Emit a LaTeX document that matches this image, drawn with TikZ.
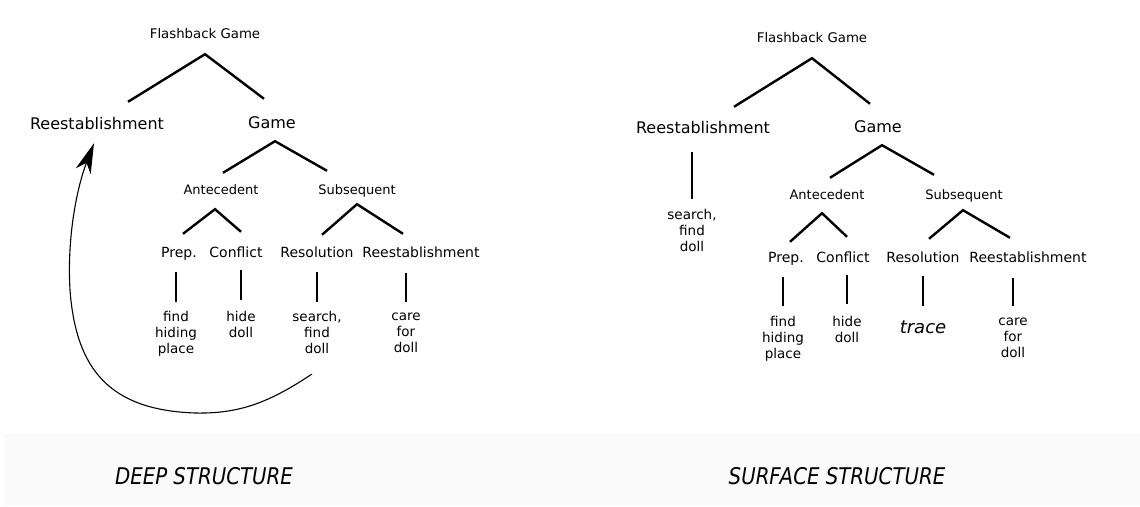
\documentclass[tikz,border=0pt]{standalone}
\usepackage{fontspec}
\setmainfont{DejaVu Sans}
\newfontfamily\capfont[FakeStretch=0.86]{DejaVu Sans}
\usetikzlibrary{arrows.meta}

\begin{document}
\begin{tikzpicture}[x=1pt,y=-1pt,
    roottxt/.style={font=\fontsize{13.3}{16}\selectfont,inner sep=0pt,text height=10pt,text depth=3pt},
    big/.style={font=\fontsize{16}{19}\selectfont,inner sep=0pt,text height=12pt,text depth=4pt},
    mid/.style={font=\fontsize{13}{16}\selectfont,inner sep=0pt,text height=10pt,text depth=3pt},
    low/.style={font=\fontsize{14}{16}\selectfont,inner sep=0pt,text height=10pt,text depth=3pt},
    leaf/.style={font=\fontsize{13.5}{16}\selectfont,inner sep=0pt,align=center,anchor=north,execute at begin node=\strut},
    br/.style={line width=2.4pt},
    stem/.style={line width=2.6pt},
    flash/.style={-{Stealth[length=30pt,width=16pt,inset=9pt]},line width=1.1pt},
    captxt/.style={font=\capfont\itshape\fontsize{23}{26}\selectfont}
  ]
    \useasboundingbox (0,0) rectangle (1140,506);
    \fill[black!2] (4,434) rectangle (1140,506);

    \node[roottxt](dfg) at (205,35) {Flashback Game};
    \node[big](dre) at (97,125) {Reestablishment};
    \node[big](dgame) at (272,124) {Game};
    \node[mid](dant) at (221,191) {Antecedent};
    \node[mid](dsub) at (357,191) {Subsequent};
    \node[low](dprep) at (179,254) {Prep.};
    \node[low](dcon) at (236,254) {Conflict};
    \node[low](dres) at (317,254) {Resolution};
    \node[low](dree) at (421,254) {Reestablishment};
    \node[leaf](dl1) at (176,311) {find\\hiding\\place};
    \node[leaf](dl2) at (241,311) {hide\\doll};
    \node[leaf](dl3) at (317,311) {search,\\find\\doll};
    \node[leaf](dl4) at (406,313) {care\\for\\doll};
    \draw[br]([xshift=31pt,yshift=15pt]dre.north)--([yshift=-12.5pt]dfg.south)--([xshift=-8pt,yshift=17pt]dgame.north);
    \draw[br]([xshift=2pt,yshift=11.5pt]dant.north)--([xshift=3pt,yshift=-9pt]dgame.south)--([xshift=-30pt,yshift=13.5pt]dsub.north);
    \draw[br]([xshift=4pt,yshift=13.5pt]dprep.north)--([xshift=-6pt,yshift=-11.5pt]dant.south)--([xshift=5pt,yshift=15.5pt]dcon.north);
    \draw[br]([xshift=5pt,yshift=12.5pt]dres.north)--([yshift=-6.5pt]dsub.south)--([xshift=-18pt,yshift=13.5pt]dree.north);
    \draw[stem,shorten <=11.5pt,shorten >=9pt](dl1.north |- dprep.south)--(dl1.north);
    \draw[stem,shorten <=9.5pt,shorten >=11pt](dl2.north |- dcon.south)--(dl2.north);
    \draw[stem,shorten <=11.5pt,shorten >=9pt](dl3.north |- dres.south)--(dl3.north);
    \draw[stem,shorten <=12.5pt,shorten >=11pt](dl4.north |- dree.south)--(dl4.north);
    \coordinate (arrstart) at (312,374);
    \draw[flash](arrstart) .. controls (270,402) and (240,414) .. (195,413)
      .. controls (110,410) and (76,370) .. (70,290)
      .. controls (67,240) and (76,190) .. ([xshift=-3pt,yshift=-10pt]dre.south);

    \node[roottxt](sfg) at (812,39) {Flashback Game};
    \node[big](sre) at (703,129) {Reestablishment};
    \node[big](sgame) at (878,128) {Game};
    \node[mid](sant) at (827,196) {Antecedent};
    \node[mid](ssub) at (964,196) {Subsequent};
    \node[low](sprep) at (786,259) {Prep.};
    \node[low](scon) at (843,259) {Conflict};
    \node[low](sres) at (923,259) {Resolution};
    \node[low](sree) at (1028,259) {Reestablishment};
    \node[leaf](sl0) at (692,209) {search,\\find\\doll};
    \node[leaf](sl1) at (783,316) {find\\hiding\\place};
    \node[leaf](sl2) at (847,316) {hide\\doll};
    \node[leaf,font=\fontsize{18}{21}\selectfont\itshape](sl3) at (923,319) {trace};
    \node[leaf](sl4) at (1013,318) {care\\for\\doll};
    \draw[br]([xshift=31pt,yshift=14pt]sre.north)--([yshift=-12.5pt]sfg.south)--([xshift=-8pt,yshift=16pt]sgame.north);
    \draw[br]([xshift=3pt,yshift=11.5pt]sant.north)--([xshift=4pt,yshift=-9pt]sgame.south)--([xshift=-30pt,yshift=14.5pt]ssub.north);
    \draw[br]([xshift=4pt,yshift=10.5pt]sprep.north)--([xshift=-5pt,yshift=-10.5pt]sant.south)--([xshift=4pt,yshift=15.5pt]scon.north);
    \draw[br]([xshift=6pt,yshift=13.5pt]sres.north)--([xshift=-1pt,yshift=-7.5pt]ssub.south)--([xshift=-18pt,yshift=14.5pt]sree.north);
    \draw[stem,shorten <=15pt,shorten >=10pt](sl0.north |- sre.south)--(sl0.north);
    \draw[stem,shorten <=11.5pt,shorten >=10pt](sl1.north |- sprep.south)--(sl1.north);
    \draw[stem,shorten <=9.5pt,shorten >=12pt](sl2.north |- scon.south)--(sl2.north);
    \draw[stem,shorten <=10.5pt,shorten >=13pt](sl3.north |- sres.south)--(sl3.north);
    \draw[stem,shorten <=12.5pt,shorten >=12pt](sl4.north |- sree.south)--(sl4.north);

    \node[captxt](dcap) at (204,476) {DEEP STRUCTURE};
    \node[captxt](scap) at (837,476) {SURFACE STRUCTURE};
  \end{tikzpicture}
\end{document}
